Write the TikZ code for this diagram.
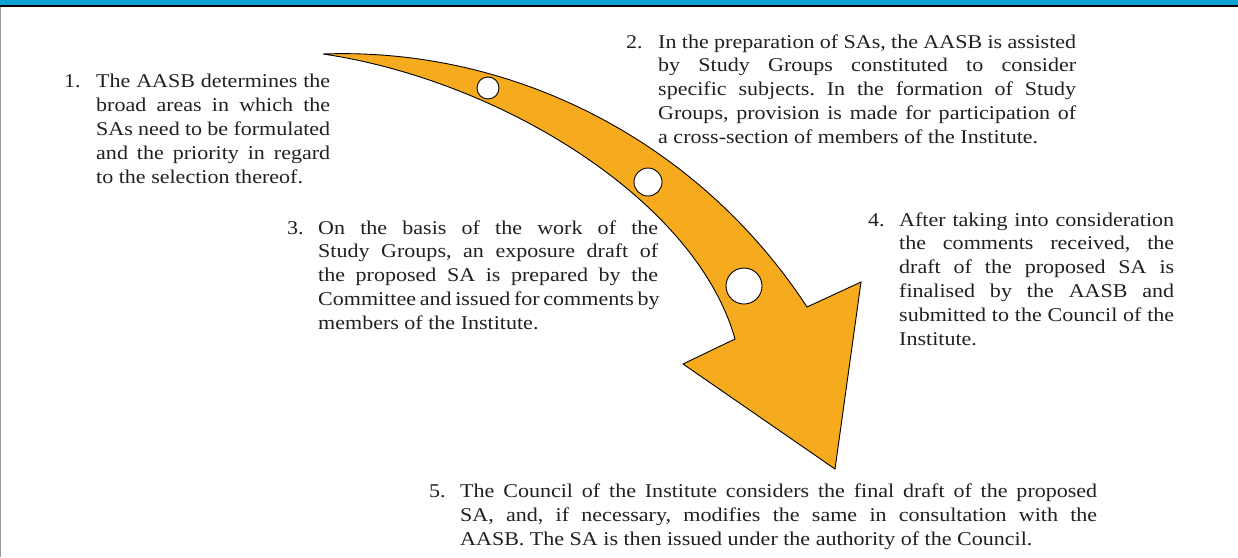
\documentclass[tikz,border=0pt]{standalone}
\usepackage{fontspec}
\setmainfont{Liberation Serif}[FakeStretch=1.13]
\definecolor{arroworange}{RGB}{246,170,30}
\definecolor{barblue}{RGB}{12,161,214}
\definecolor{textdark}{RGB}{35,31,32}
\newcommand\J[1]{\makebox[\linewidth][s]{#1}\par}
\newcommand\Lt[1]{\mbox{#1}\par}
\frenchspacing
\begin{document}
\begin{tikzpicture}[x=1pt,y=-1pt,
  para/.style={anchor=base west,inner sep=0pt,font=\fontsize{19.5pt}{23.9pt}\selectfont\frenchspacing,text=textdark},
  hole/.style={circle,draw=black,fill=white,line width=0.9pt,inner sep=0pt},
  bigarrow/.style={draw=black,fill=arroworange,line width=0.9pt}]
\useasboundingbox (0,0) rectangle (1238,557);
% top bar
\fill[barblue] (0,0) rectangle (1238,4.8);
\fill[black] (0,4.8) rectangle (1238,7);
\draw[black!40, line width=1.2pt] (0.6,7) -- (0.6,557);
% arrow
\coordinate (T) at (323,54);
\coordinate (So) at (807,307);
\coordinate (R) at (861,282);
\coordinate (P) at (835,469);
\coordinate (L) at (683,364);
\coordinate (Si) at (735,339);
\draw[bigarrow] (T) .. controls (517,47) and (700.5,144) .. (So) -- (R) -- (P) -- (L) -- (Si)
  .. controls (696,200) and (500,80) .. (T) -- cycle;
\node[hole, minimum size=22pt] (h1) at (488,88) {};
\node[hole, minimum size=28pt] (h2) at (648,182) {};
\node[hole, minimum size=36pt] (h3) at (744,286) {};
% texts
\node[para] (s1) at (64,87.7) {\makebox[32pt][l]{1.}\parbox[t]{234pt}{%
  \J{The AASB determines the}
  \J{broad areas in which the}
  \J{SAs need to be formulated}
  \J{and the priority in regard}
  \Lt{to the selection thereof.}}};
\node[para] (s2) at (626,48) {\makebox[32pt][l]{2.}\parbox[t]{418pt}{%
  \J{In the preparation of SAs, the AASB is assisted}
  \J{by Study Groups constituted to consider}
  \J{specific subjects. In the formation of Study}
  \J{Groups, provision is made for participation of}
  \Lt{a cross-section of members of the Institute.}}};
\node[para] (s3) at (287,234) {\makebox[31pt][l]{3.}\parbox[t]{340pt}{%
  \J{On the basis of the work of the}
  \J{Study Groups, an exposure draft of}
  \J{the proposed SA is prepared by the}
  \J{Committee and issued for comments by}
  \Lt{members of the Institute.}}};
\node[para] (s4) at (868,226) {\makebox[31pt][l]{4.}\parbox[t]{275pt}{%
  \J{After taking into consideration}
  \J{the comments received, the}
  \J{draft of the proposed SA is}
  \J{finalised by the AASB and}
  \J{submitted to the Council of the}
  \Lt{Institute.}}};
\node[para] (s5) at (429,497.3) {\makebox[31pt][l]{5.}\parbox[t]{637pt}{%
  \J{The Council of the Institute considers the final draft of the proposed}
  \J{SA, and, if necessary, modifies the same in consultation with the}
  \Lt{AASB. The SA is then issued under the authority of the Council.}}};
\end{tikzpicture}
\end{document}
